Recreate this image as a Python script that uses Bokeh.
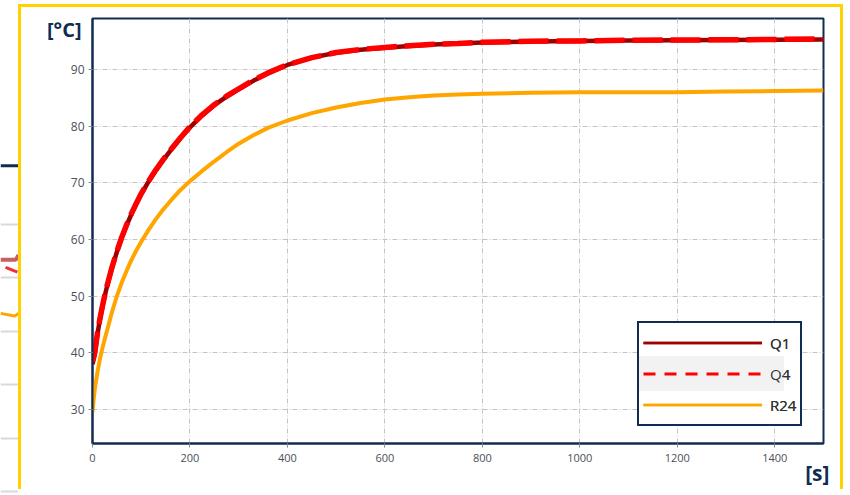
from bokeh.plotting import figure
from bokeh.layouts import row
from bokeh.models import Legend, LegendItem, Label, FixedTicker, ColumnDataSource, Grid
from bokeh.embed import file_html
from bokeh.resources import INLINE

# ---- data ----
time_s = [0, 2, 5, 10, 15, 20, 25, 30, 40, 50, 60, 70, 80, 90, 100, 115, 130, 145, 160, 180, 200,
          225, 250, 275, 300, 330, 360, 400, 450, 500, 550, 600, 650, 700, 750, 800,
          900, 1000, 1100, 1200, 1300, 1400, 1500]
q1 = [38.0, 38.8, 40.0, 43.2, 45.8, 48.0, 50.0, 51.8, 55.0, 57.8, 60.3, 62.5, 64.5, 66.3, 68.0,
      70.2, 72.2, 74.0, 75.7, 77.8, 79.8, 81.9, 83.7, 85.2, 86.5, 88.0, 89.3, 90.8,
      92.1, 92.95, 93.5, 93.85, 94.15, 94.4, 94.6, 94.75, 94.95, 95.05, 95.1, 95.15, 95.2, 95.25, 95.3]
q4 = [38.5, 39.0, 40.3, 43.4, 45.9, 48.1, 50.1, 51.9, 55.1, 57.9, 60.4, 62.6, 64.6, 66.4, 68.1,
      70.3, 72.3, 74.1, 75.8, 77.9, 79.9, 82.0, 83.8, 85.3, 86.6, 88.1, 89.4, 90.85,
      92.1, 93.0, 93.55, 93.9, 94.2, 94.45, 94.6, 94.8, 95.0, 95.05, 95.15, 95.2, 95.25, 95.3, 95.4]
r24 = [29.5, 31.5, 33.8, 36.5, 38.8, 40.7, 42.4, 44.0, 47.2, 50.0, 52.4, 54.5, 56.4, 58.1, 59.6,
       61.7, 63.6, 65.3, 66.8, 68.7, 70.3, 72.1, 73.8, 75.4, 76.9, 78.4, 79.7, 81.0,
       82.3, 83.3, 84.1, 84.7, 85.1, 85.4, 85.6, 85.7, 85.9, 86.0, 86.0, 86.0, 86.1, 86.2, 86.3]
series_names = ["Q1", "Q4", "R24"]
x_ticks = [0, 200, 400, 600, 800, 1000, 1200, 1400]
y_ticks = [30, 40, 50, 60, 70, 80, 90]
x_start, x_end = 0, 1500
y_start, y_end = 24, 99
y_unit = "[°C]"
x_unit = "[s]"

# remnants of the neighbouring chart at the far left
bg_ticks = [0, 10, 20, 30, 40, 50]
bg_x = [0, 1]
bg_frame_top = [60.9, 60.9]
bg_q1_x = [0, 0.85, 1.0]
bg_q1_y = [43.3, 43.3, 44.2]
bg_q4_x = [0.28, 0.94]
bg_q4_y = [41.9, 41.0]
bg_r24_x = [0, 0.8, 1.0]
bg_r24_y = [33.3, 32.8, 33.3]

NAVY = "#102c52"
YELLOW = "#ffd200"
DARKRED = "#a00000"
RED = "#ff0000"
ORANGE = "#ffa500"
FONT = "Open Sans"

# ---- left remnant figure ----
left = figure(frame_width=18, frame_height=495, x_range=(0, 1), y_range=(-2.8, 89.72),
              x_axis_type=None, y_axis_type=None, title=None,
              toolbar_location=None, output_backend="svg", min_border=0)
left.outline_line_color = None
left.add_layout(Grid(dimension=1, ticker=FixedTicker(ticks=bg_ticks),
                     grid_line_color="#d9d9d9", grid_line_width=2))
left.line(bg_x, bg_frame_top, line_color=NAVY, line_width=3)
left.line(bg_q1_x, bg_q1_y, line_color="#c86060", line_width=4)
left.line(bg_q4_x, bg_q4_y, line_color="#f03030", line_width=3)
left.line(bg_r24_x, bg_r24_y, line_color=ORANGE, line_width=3)

# ---- main figure ----
p = figure(width=825, height=485, x_range=(x_start, x_end), y_range=(y_start, y_end),
           output_backend="svg", toolbar_location=None, title=None,
           min_border_left=71, min_border_right=23, min_border_top=11, min_border_bottom=48,
           styles={"border-top": f"3px solid {YELLOW}", "border-left": f"3px solid {YELLOW}",
                   "border-right": f"3px solid {YELLOW}", "margin-top": "4px"})
p.background_fill_color = "white"
p.border_fill_color = "white"
p.outline_line_color = NAVY
p.outline_line_width = 2

src = ColumnDataSource(dict(t=time_s, q1=q1, q4=q4, r24=r24))
p.line("t", "q1", source=src, line_color=DARKRED, line_width=4.5)
p.line("t", "q4", source=src, line_color=RED, line_width=5.5, line_dash="30 8")
p.line("t", "r24", source=src, line_color=ORANGE, line_width=4)

for ax in (p.xaxis[0], p.yaxis[0]):
    ax.axis_line_color = NAVY
    ax.axis_line_width = 2
    ax.major_tick_line_color = "#888888"
    ax.major_tick_out = 4
    ax.major_tick_in = 0
    ax.minor_tick_line_color = None
    ax.major_label_text_font = FONT
    ax.major_label_text_color = "#4a4f5a"
p.xaxis.major_label_text_font_size = "11px"
p.yaxis.major_label_text_font_size = "12px"
p.xaxis.ticker = FixedTicker(ticks=x_ticks)
p.yaxis.ticker = FixedTicker(ticks=y_ticks)
p.xaxis.major_label_standoff = 6
p.yaxis.major_label_standoff = 4

p.grid.grid_line_color = "#c4c4c4"
p.grid.grid_line_dash = "5 2 1 2"
p.grid.grid_line_width = 1
p.xgrid.ticker = FixedTicker(ticks=x_ticks)
p.ygrid.ticker = FixedTicker(ticks=y_ticks)

# unit labels: placed in side panels so they are not clipped to the frame
p.add_layout(Label(x=x_start, y=y_end, text=y_unit, text_align="right", text_baseline="top",
                   x_offset=-11, y_offset=3, text_font=FONT, text_font_style="bold",
                   text_font_size="20px", text_color=NAVY), "left")
p.add_layout(Label(x=x_end, y=y_start, text=x_unit, text_align="right", text_baseline="top",
                   x_offset=6, y_offset=-15, text_font=FONT, text_font_style="bold",
                   text_font_size="21px", text_color=NAVY), "below")

# legend glyphs (thin lines as in the reference legend)
nan = float("nan")
lsrc = ColumnDataSource(dict(x=[nan], y=[nan]))
lg1 = p.line("x", "y", source=lsrc, line_color=DARKRED, line_width=2.5)
lg2 = p.line("x", "y", source=lsrc, line_color=RED, line_width=3, line_dash="12 9")
lg3 = p.line("x", "y", source=lsrc, line_color=ORANGE, line_width=2.5)
lg_blank = p.line("x", "y", source=lsrc, line_alpha=0)
leg_style = dict(orientation="vertical", margin=0, glyph_height=31, label_standoff=8,
                 spacing=0, label_text_font=FONT, label_text_font_size="15px",
                 label_text_color="#333333", border_line_width=2, border_line_alpha=1)


def legend_items():
    return [LegendItem(label=series_names[0], renderers=[lg1]),
            LegendItem(label=series_names[1], renderers=[lg2]),
            LegendItem(label=series_names[2], renderers=[lg3])]


# white base of the legend box (same geometry as the framed legend on top)
p.add_layout(Legend(items=legend_items(), location=(545, 17), border_line_color="white",
                    background_fill_color="white", background_fill_alpha=1,
                    glyph_width=119, padding=4, **leg_style))
# shaded middle row of the legend (band only: invisible glyph and label)
p.add_layout(Legend(items=[LegendItem(label=series_names[1], renderers=[lg_blank])],
                    location=(546, 52), border_line_color="#f2f2f2",
                    background_fill_color="#f2f2f2", background_fill_alpha=1,
                    glyph_width=114, padding=0, label_text_alpha=0,
                    **leg_style))
# legend entries and frame drawn on top
p.add_layout(Legend(items=legend_items(), location=(545, 17), border_line_color=NAVY,
                    background_fill_alpha=0, glyph_width=119, padding=4, **leg_style))

layout = row(left, p, spacing=0)
open("out.html", "w").write(file_html(layout, INLINE))
